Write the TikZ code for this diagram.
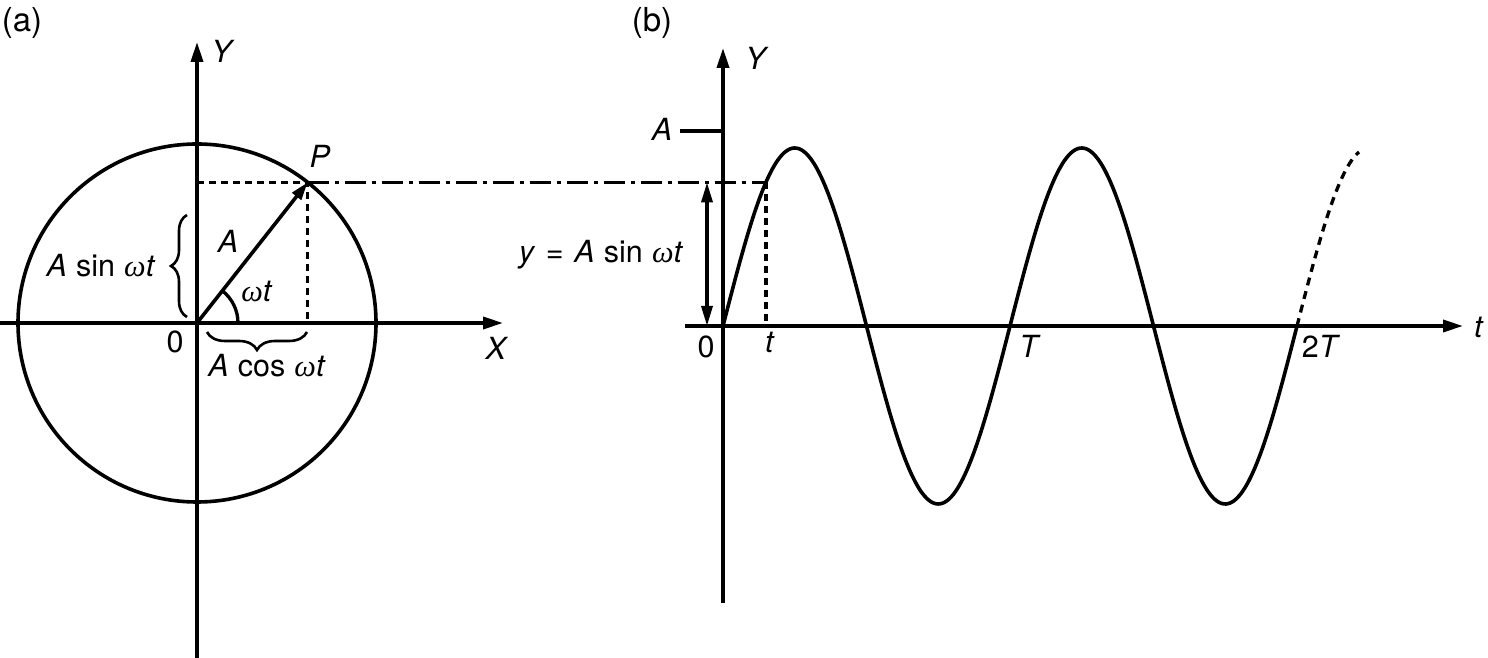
\documentclass[tikz,border=0pt]{standalone}
\usepackage{fontspec}
\setmainfont{TeX Gyre Heros}
\newfontfamily\omfont{Liberation Serif}
\newcommand\myom{{\omfont\itshape ω}}
\usetikzlibrary{arrows.meta,decorations.pathreplacing}
\begin{document}
\begin{tikzpicture}[x=1pt,y=1pt,
  lbl/.style={font=\fontsize{30.5}{36}\selectfont, inner sep=0pt, anchor=base},
  plbl/.style={font=\fontsize{33}{38}\selectfont, inner sep=0pt, anchor=base},
  solid line/.style={line width=3.6pt, line cap=butt},
  axis/.style={solid line, -{Triangle[length=20pt,width=12pt]}},
  vec/.style={solid line, -{Triangle[length=18pt,width=11pt]}},
  dbl/.style={line width=3.3pt, {Triangle[length=20pt,width=11pt]}-{Triangle[length=20pt,width=11pt]}},
  dsh/.style={line width=3.3pt, dash pattern=on 7pt off 5pt},
  dshdot/.style={line width=3.3pt, dash pattern=on 21pt off 6pt on 4pt off 6pt},
  bracestyle/.style={line width=2.6pt, decorate},
]
\useasboundingbox (0,0) rectangle (1488,658);

% ---------- panel (a) ----------
\node[plbl] (la) at (22,626) {(a)};
\coordinate (O1) at (197,335);
\coordinate (Ybot) at (197,0);
\coordinate (Ytop) at (197,616);
\coordinate (Xl) at (0,335);
\coordinate (Xr) at (503,335);
\coordinate (P) at ([shift={(O1)}]51.8:179);

\draw[solid line] (O1) circle[radius=179];
\draw[axis] (Ybot) -- (Ytop);
\draw[axis] (Xl) -- (Xr);
\draw[dsh] (O1 |- P) -- (P) -- (P |- O1);
\draw[vec] (O1) -- (P);
\draw[line width=3.3pt] ([shift={(O1)}]0:41) arc[start angle=0,end angle=51.8,radius=41];

\coordinate (Bl1) at (187,341);
\coordinate (Bl2) at (187,443);
\draw[bracestyle, decoration={brace,amplitude=16pt}] (Bl1) -- (Bl2);
\coordinate (Bb1) at (307,326);
\coordinate (Bb2) at (207,326);
\draw[bracestyle, decoration={brace,amplitude=18pt}] (Bb1) -- (Bb2);

\node[lbl] (lY1) at (223,595) {\textit{Y}};
\node[lbl] (lX) at (497,298) {\textit{X}};
\node[lbl] (l01) at (175,305) {0};
\node[lbl] (lP) at (320,490) {\textit{P}};
\node[lbl] (lAv) at (228,405) {\textit{A}};
\node[lbl] (lwt) at (257,356) {\myom\textit{t}};
\node[lbl] (lsin) at (101,381) {\textit{A}\hspace{0.3em}sin\hspace{0.3em}\myom\textit{t}};
\node[lbl] (lcos) at (267,281) {\textit{A}\hspace{0.3em}cos\hspace{0.3em}\myom\textit{t}};

% ---------- panel (b) ----------
\node[plbl] (lb) at (652,626) {(b)};
\coordinate (O2) at (723,332);
\coordinate (Y2bot) at (723,55);
\coordinate (Y2top) at (723,610);
\coordinate (tl) at (685,332);
\coordinate (tr) at (1463,332);
\coordinate (Atick) at (680,527);
\coordinate (Atick2) at (723,527);
\coordinate (Qx) at (765.9,332);
\coordinate (Q) at (Qx |- P);
\coordinate (D0) at (707,332);

\draw[axis] (Y2bot) -- (Y2top);
\draw[axis] (tl) -- (tr);
\draw[solid line] (Atick) -- (Atick2);
\draw[solid line, line join=round] plot[domain=0:574, samples=300] ({723+\x},{332+178*sin(\x*1.254355)});
\draw[line width=3.3pt, dash pattern=on 8pt off 6pt] plot[domain=574:636, samples=60] ({723+\x},{332+178*sin(\x*1.254355)});
\draw[dshdot] (P) -- (Q);
\draw[dsh] (Q) -- (Qx);
\draw[dbl] (D0) -- (D0 |- P);

\node[lbl] (lY2) at (757,588) {\textit{Y}};
\node[lbl] (lA2) at (662,517) {\textit{A}};
\node[lbl] (ly) at (601,395) {\textit{y}\hspace{0.35em}=\hspace{0.35em}\textit{A}\hspace{0.3em}sin\hspace{0.3em}\myom\textit{t}};
\node[lbl] (l02) at (706,300) {0};
\node[lbl] (lt) at (770,305) {\textit{t}};
\node[lbl] (lT) at (1030,300) {\textit{T}};
\node[lbl] (l2T) at (1321,300) {2\textit{T}};
\node[lbl] (ltax) at (1479,320) {\textit{t}};
\end{tikzpicture}
\end{document}
